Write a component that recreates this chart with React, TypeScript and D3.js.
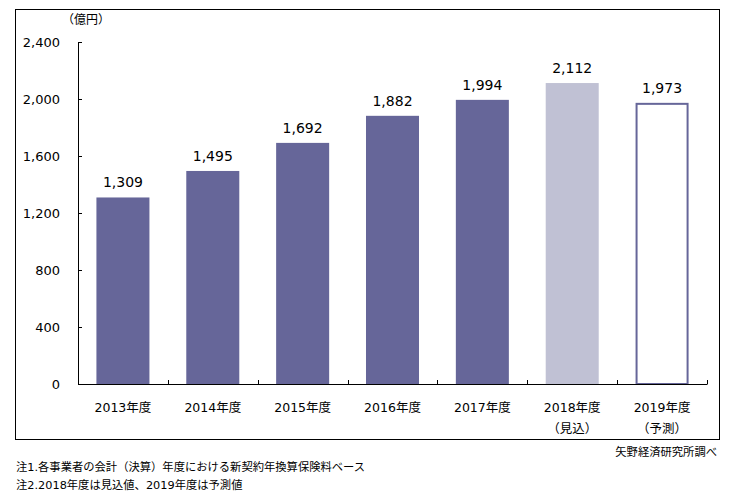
import React from "react";
import * as d3 from "d3";

const categories = ["2013年度", "2014年度", "2015年度", "2016年度", "2017年度", "2018年度", "2019年度"];
const subLabels = ["", "", "", "", "", "（見込）", "（予測）"];
const values = [1309, 1495, 1692, 1882, 1994, 2112, 1973];
const barKinds = ["actual", "actual", "actual", "actual", "actual", "estimate", "forecast"];
const yTicks = [0, 400, 800, 1200, 1600, 2000, 2400];
const notes = ["注1.各事業者の会計（決算）年度における新契約年換算保険料ベース", "注2.2018年度は見込値、2019年度は予測値"];
const source = "矢野経済研究所調べ";
const unitLabel = "（億円）";

const FONT = "'DejaVu Sans', 'Noto Sans CJK JP', sans-serif";

export default function App() {
  const W = 737, H = 500;
  const left = 78, right = 707, top = 42, bottom = 384;
  const x = d3.scaleBand<string>().domain(categories).range([left, right]).paddingInner(0.41).paddingOuter(0.205);
  const y = d3.scaleLinear().domain([0, 2400]).range([bottom, top]);
  const bounds = d3.range(categories.length + 1).map((i) => left + i * ((right - left) / categories.length));

  return (
    <svg width={W} height={H} style={{ position: "absolute", left: 0, top: 0, background: "#fff" }} fontFamily={FONT}>
      <rect x={15.5} y={9.5} width={704} height={430} fill="none" stroke="#000" strokeWidth={1} />
      <text x={86} y={24} fontSize={12} textAnchor="middle" fill="#000">{unitLabel}</text>
      {values.map((v, i) => {
        const kind = barKinds[i];
        const bx = x(categories[i])!;
        const bw = x.bandwidth();
        const fill = kind === "actual" ? "#666699" : kind === "estimate" ? "#c0c1d4" : "#fff";
        return (
          <g key={i}>
            {kind === "forecast" ? (
              <rect x={bx + 1} y={y(v) + 1} width={bw - 2} height={bottom - y(v) - 1} fill="#fff" stroke="#666699" strokeWidth={2} />
            ) : (
              <rect x={bx} y={y(v)} width={bw} height={bottom - y(v)} fill={fill} />
            )}
            <text x={bx + bw / 2} y={y(v) - 10} fontSize={14} textAnchor="middle" fill="#000">{d3.format(",")(v)}</text>
          </g>
        );
      })}
      <line x1={left + 0.5} x2={left + 0.5} y1={top} y2={bottom} stroke="#000" />
      {yTicks.map((t) => (
        <g key={t}>
          <line x1={left} x2={left + 4} y1={Math.round(y(t)) + 0.5} y2={Math.round(y(t)) + 0.5} stroke="#000" />
          <text x={60} y={y(t) + 5} fontSize={13} textAnchor="end" fill="#000">{d3.format(",")(t)}</text>
        </g>
      ))}
      <line x1={left} x2={right + 0.5} y1={bottom + 0.5} y2={bottom + 0.5} stroke="#000" />
      {bounds.slice(1).map((b, i) => (
        <line key={i} x1={Math.round(b) + 0.5} x2={Math.round(b) + 0.5} y1={bottom} y2={bottom - 4} stroke="#000" />
      ))}
      {categories.map((c, i) => {
        const cx = x(c)! + x.bandwidth() / 2;
        return (
          <g key={c}>
            <text x={cx} y={412} fontSize={12.5} textAnchor="middle" fill="#000">{c}</text>
            {subLabels[i] && (
              <text x={cx} y={433} fontSize={12.5} textAnchor="middle" fill="#000">{subLabels[i]}</text>
            )}
          </g>
        );
      })}
      <text x={717} y={456} fontSize={11.3} textAnchor="end" fill="#000">{source}</text>
      {notes.map((n, i) => (
        <text key={i} x={16} y={471 + i * 18} fontSize={11.3} fill="#000">{n}</text>
      ))}
    </svg>
  );
}
